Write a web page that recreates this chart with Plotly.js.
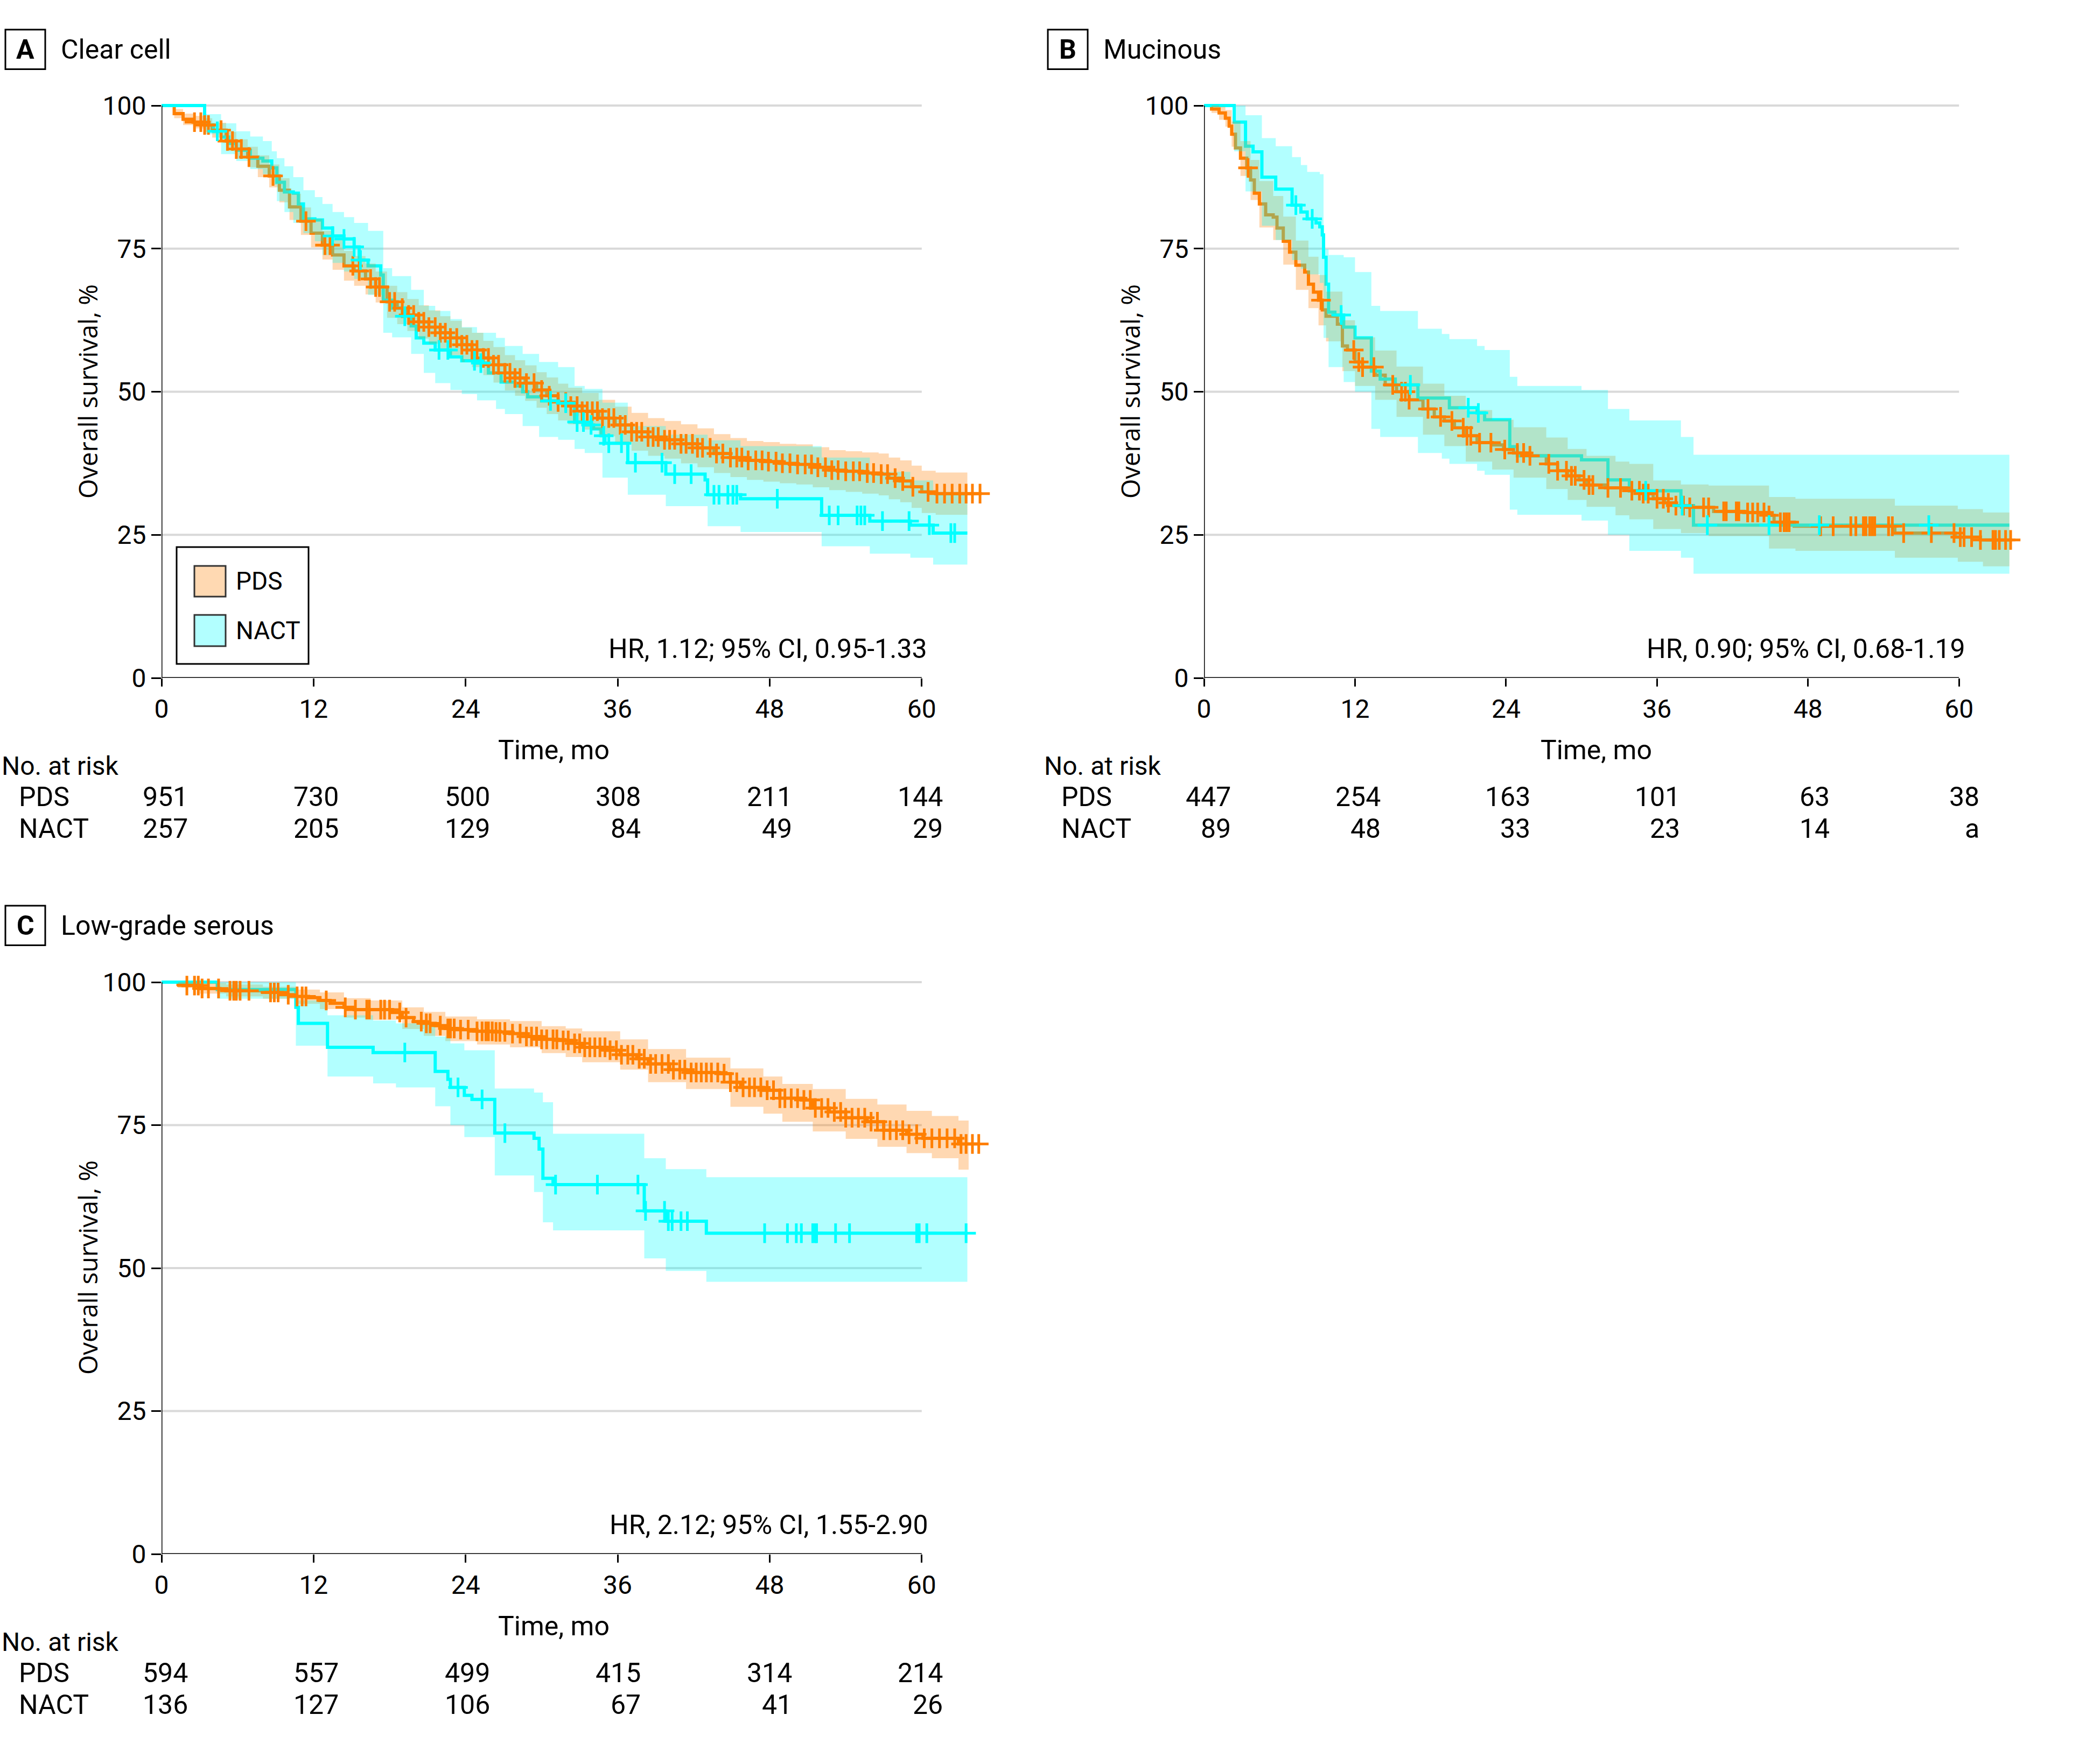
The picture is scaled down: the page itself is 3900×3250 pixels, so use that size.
<!DOCTYPE html>
<html>
<head>
<meta charset="utf-8">
<script src="https://cdn.plot.ly/plotly-3.0.1.min.js"></script>
<style>html,body{margin:0;padding:0;background:#fff;}#chart{width:3900px;height:3250px;}</style>
</head>
<body>
<div id="chart"></div>
<script>
// ---------------- DATA ----------------
const monthTicks = [0, 12, 24, 36, 48, 60];
const survTicks = [0, 25, 50, 75, 100];
const groups = ["PDS", "NACT"];

// Panel A: Clear cell
const A_pds_t = [0, 1.0, 1.7, 2.5, 3.4, 4.0, 5.1, 5.9, 6.8, 7.6, 8.5, 9.3, 10.1, 11.0, 11.8, 12.7, 13.5, 14.4, 15.2, 16.1, 16.9, 17.8, 18.6, 19.4, 20.3, 21.1, 22.0, 22.8, 23.7, 24.5, 25.4, 26.2, 27.1, 27.9, 28.7, 29.6, 30.4, 31.3, 32.1, 33.2, 34.5, 35.8, 37.1, 38.4, 39.7, 41.0, 42.3, 43.6, 44.9, 46.2, 47.5, 48.8, 50.1, 51.4, 52.7, 54.0, 55.3, 56.6, 57.4, 58.3, 59.2, 60.0, 61.1, 64.6];
const A_pds_s = [100, 98.6, 97.6, 97.1, 96.6, 95.7, 93.8, 92.4, 91.0, 89.4, 87.7, 85.2, 82.3, 79.8, 77.7, 75.6, 73.9, 72.0, 71.1, 69.7, 68.3, 65.7, 64.6, 63.4, 62.2, 61.3, 60.3, 59.4, 58.2, 57.3, 55.9, 54.7, 53.3, 52.4, 51.5, 50.3, 49.3, 48.2, 47.5, 46.6, 45.4, 44.2, 43.0, 42.1, 41.6, 40.9, 40.2, 39.2, 38.5, 38.0, 37.8, 37.5, 37.3, 36.8, 36.3, 36.1, 35.8, 35.6, 34.9, 34.4, 33.4, 32.5, 32.2, 32.2];
const A_pds_ci_t = [0, 1.0, 1.7, 2.5, 3.4, 4.0, 5.1, 5.9, 6.8, 7.6, 8.5, 9.3, 10.1, 11.0, 11.8, 12.7, 13.5, 14.4, 15.2, 16.1, 16.9, 17.8, 18.6, 19.4, 20.3, 21.1, 22.0, 22.8, 23.7, 24.5, 25.4, 26.2, 27.1, 27.9, 28.7, 29.6, 30.4, 31.3, 32.1, 33.2, 34.5, 35.8, 37.1, 38.4, 39.7, 41.0, 42.3, 43.6, 44.9, 46.2, 47.5, 48.8, 50.1, 51.4, 52.7, 54.0, 55.3, 56.6, 57.4, 58.3, 59.2, 60.0, 61.1, 63.6];
const A_pds_hi = [100, 99.4, 98.6, 98.2, 97.8, 97.0, 95.4, 94.1, 92.8, 91.3, 89.7, 87.3, 84.6, 82.2, 80.2, 78.1, 76.5, 74.6, 73.7, 72.4, 71.0, 68.5, 67.4, 66.2, 65.1, 64.2, 63.2, 62.4, 61.2, 60.3, 58.9, 57.8, 56.4, 55.5, 54.6, 53.4, 52.5, 51.4, 50.7, 49.8, 48.6, 47.4, 46.3, 45.4, 44.9, 44.3, 43.6, 42.6, 41.9, 41.4, 41.2, 40.9, 40.8, 40.3, 39.8, 39.6, 39.4, 39.2, 38.5, 38.0, 37.1, 36.2, 35.9, 35.9];
const A_pds_lo = [100, 97.8, 96.6, 96.0, 95.4, 94.4, 92.2, 90.7, 89.2, 87.5, 85.7, 83.1, 80.0, 77.4, 75.2, 73.1, 71.3, 69.4, 68.5, 67.0, 65.6, 62.9, 61.8, 60.6, 59.3, 58.4, 57.4, 56.4, 55.2, 54.3, 52.9, 51.6, 50.2, 49.3, 48.4, 47.2, 46.1, 45.0, 44.3, 43.4, 42.2, 41.0, 39.7, 38.8, 38.3, 37.5, 36.8, 35.8, 35.1, 34.6, 34.3, 34.0, 33.8, 33.3, 32.8, 32.5, 32.2, 31.9, 31.2, 30.7, 29.7, 28.8, 28.5, 28.5];
const A_pds_cens = [2.6, 3.1, 3.4, 3.7, 4.7, 5.2, 5.6, 5.9, 6.3, 6.9, 8.8, 11.4, 12.9, 13.3, 15.1, 15.6, 16.5, 16.9, 17.2, 18.0, 18.4, 19.0, 19.5, 19.9, 20.3, 20.7, 21.1, 21.6, 22.0, 22.4, 22.8, 23.3, 23.7, 24.1, 24.5, 24.9, 25.4, 25.8, 26.2, 26.6, 27.1, 27.5, 27.9, 28.3, 28.8, 29.4, 30.0, 30.6, 31.3, 31.9, 32.3, 32.8, 33.2, 33.6, 34.0, 34.4, 34.8, 35.3, 35.7, 36.2, 36.6, 37.1, 37.5, 37.9, 38.4, 38.8, 39.2, 39.7, 40.1, 40.5, 41.0, 41.4, 41.9, 42.3, 42.7, 43.3, 43.8, 44.3, 44.9, 45.4, 45.8, 46.3, 46.9, 47.4, 47.9, 48.5, 49.0, 49.6, 50.2, 50.8, 51.3, 51.8, 52.4, 52.9, 53.4, 54.0, 54.6, 55.1, 55.7, 56.2, 56.8, 57.3, 57.9, 58.5, 59.3, 60.5, 61.2, 61.8, 62.4, 63.0, 63.5, 64.0, 64.6];

const A_nact_t = [0, 3.4, 4.1, 4.7, 5.3, 5.9, 7.0, 8.0, 8.7, 9.1, 9.7, 10.4, 10.8, 11.2, 12.1, 12.7, 13.5, 14.4, 15.2, 15.6, 16.3, 17.3, 17.5, 18.2, 19.0, 19.7, 20.1, 20.7, 21.6, 22.8, 23.7, 24.9, 25.8, 26.8, 27.9, 28.5, 28.9, 30.0, 31.3, 32.6, 33.4, 34.1, 34.7, 35.0, 36.8, 39.8, 42.9, 43.1, 45.7, 52.1, 55.9, 59.1, 60.9, 63.6];
const A_nact_s = [100, 96.6, 95.5, 94.5, 93.4, 92.2, 90.8, 90.3, 89.1, 86.6, 84.9, 84.7, 82.8, 80.2, 80.0, 78.6, 77.2, 76.7, 75.3, 73.0, 72.0, 70.4, 66.0, 64.6, 63.2, 61.5, 59.4, 58.5, 57.3, 56.1, 55.4, 55.0, 53.3, 51.7, 51.0, 50.0, 49.1, 48.4, 48.0, 44.7, 44.2, 43.5, 42.3, 41.0, 37.6, 35.6, 34.6, 32.0, 31.3, 28.4, 27.4, 26.7, 25.3, 25.3];
const A_nact_ci_t = [0, 3.4, 4.7, 5.9, 7.0, 8.0, 8.7, 9.1, 9.7, 10.4, 11.2, 12.1, 12.7, 13.5, 14.4, 15.2, 16.3, 17.5, 18.2, 19.7, 20.7, 21.6, 22.8, 23.7, 24.9, 26.4, 27.1, 28.5, 29.8, 31.3, 32.6, 33.4, 34.8, 36.8, 39.8, 43.1, 45.7, 52.1, 55.9, 59.1, 60.9, 63.6];
const A_nact_hi = [100, 98.5, 96.9, 95.5, 94.6, 93.8, 92.0, 90.8, 89.4, 87.5, 85.2, 84.0, 82.8, 81.4, 80.5, 79.5, 78.1, 71.6, 70.2, 67.8, 65.0, 64.1, 62.7, 61.3, 60.3, 59.4, 58.0, 56.6, 55.2, 54.3, 51.0, 50.5, 48.1, 44.0, 42.5, 41.5, 40.5, 38.5, 36.0, 34.5, 32.5, 32.5];
const A_nact_lo = [100, 95.0, 91.5, 90.3, 88.9, 88.0, 86.1, 83.3, 81.4, 79.5, 77.7, 76.3, 73.9, 72.5, 71.0, 69.7, 66.9, 60.3, 59.5, 56.6, 53.3, 51.5, 50.3, 49.6, 48.5, 47.0, 46.1, 44.0, 42.1, 41.6, 40.0, 39.3, 35.0, 32.0, 30.0, 26.5, 25.5, 23.0, 21.7, 21.0, 19.8, 19.8];
const A_nact_cens = [4.4, 13.5, 14.4, 15.2, 15.7, 19.2, 21.9, 22.6, 24.7, 25.2, 30.7, 31.9, 32.8, 33.3, 33.9, 34.9, 35.3, 36.3, 37.4, 39.5, 40.5, 41.8, 43.6, 44.0, 44.7, 45.1, 45.4, 48.6, 52.7, 53.4, 54.9, 55.2, 55.5, 56.9, 59.0, 60.6, 62.3, 62.6];

// Panel B: Mucinous
const B_pds_t = [0, 0.6, 1.2, 1.7, 2.0, 2.2, 2.5, 2.9, 3.4, 3.7, 4.0, 4.4, 4.9, 5.5, 5.8, 6.3, 6.8, 7.3, 8.0, 8.3, 8.7, 9.1, 9.4, 9.7, 10.6, 11.0, 11.4, 12.0, 12.6, 13.6, 14.4, 15.3, 16.3, 17.4, 18.3, 19.1, 19.9, 20.8, 21.7, 22.9, 23.8, 24.6, 25.9, 27.2, 28.1, 28.9, 29.8, 30.4, 31.9, 33.8, 34.9, 35.7, 36.6, 37.5, 38.4, 40.5, 42.9, 44.9, 45.3, 46.9, 54.9, 59.7, 61.7, 64.2];
const B_pds_s = [100, 99.4, 98.7, 97.8, 96.4, 95.0, 92.6, 90.8, 89.1, 87.0, 84.7, 82.8, 80.9, 80.5, 78.6, 76.3, 74.4, 72.1, 70.9, 68.8, 67.4, 66.0, 64.3, 63.2, 61.8, 58.0, 57.3, 55.2, 54.3, 52.9, 51.2, 50.0, 48.6, 47.0, 45.6, 44.9, 43.7, 42.3, 41.1, 40.7, 39.9, 39.3, 38.8, 37.4, 36.2, 35.3, 34.6, 33.7, 33.2, 32.7, 32.2, 31.3, 30.6, 30.1, 29.8, 29.1, 28.9, 28.4, 27.2, 26.5, 25.3, 24.6, 24.1, 24.1];
const B_pds_ci_t = [0, 0.6, 1.2, 1.7, 2.2, 2.9, 3.7, 4.4, 5.5, 6.3, 7.3, 8.3, 9.1, 9.7, 11.0, 12.0, 13.6, 15.3, 17.4, 19.1, 20.8, 22.9, 24.6, 27.2, 28.9, 30.4, 32.7, 33.8, 35.7, 37.9, 40.1, 44.9, 47.0, 54.9, 59.9, 61.9, 64.0];
const B_pds_hi = [100, 100, 99.8, 99.2, 97.2, 93.8, 90.5, 86.8, 84.2, 80.6, 76.4, 73.6, 70.4, 67.5, 62.5, 59.5, 57.2, 54.4, 51.4, 49.3, 46.8, 45.1, 43.8, 42.0, 40.0, 38.8, 37.8, 37.4, 34.5, 33.8, 33.6, 31.6, 31.3, 30.1, 29.5, 28.9, 28.9];
const B_pds_lo = [100, 98.7, 97.5, 96.3, 92.8, 87.7, 83.5, 78.7, 76.5, 72.2, 67.8, 64.6, 61.6, 58.8, 53.6, 51.0, 48.6, 45.6, 42.5, 40.5, 37.8, 36.4, 35.0, 33.0, 31.1, 29.9, 28.4, 27.7, 26.0, 25.3, 24.8, 22.6, 22.2, 21.0, 20.3, 19.5, 19.5];
const B_pds_cens = [3.5, 9.3, 11.9, 12.3, 12.6, 13.5, 15.0, 15.7, 16.0, 16.3, 17.8, 18.8, 19.7, 20.6, 20.9, 21.2, 21.9, 22.8, 23.9, 24.9, 25.4, 25.9, 27.4, 28.1, 28.8, 29.2, 29.5, 30.2, 30.6, 30.9, 32.1, 33.1, 34.0, 34.6, 34.9, 35.3, 36.0, 36.5, 36.9, 37.5, 38.1, 38.6, 39.7, 40.1, 41.3, 41.5, 42.3, 42.5, 43.2, 43.6, 44.0, 44.5, 44.9, 45.8, 46.1, 46.3, 46.5, 49.0, 50.0, 51.4, 51.8, 52.4, 52.6, 52.9, 53.1, 53.3, 54.4, 54.7, 55.6, 57.8, 59.6, 60.1, 60.4, 61.0, 61.7, 62.7, 62.9, 63.2, 63.7, 64.1];

const B_nact_t = [0, 2.4, 3.3, 3.9, 4.6, 5.7, 7.0, 7.7, 8.2, 8.9, 9.2, 9.4, 9.5, 9.7, 9.9, 10.4, 11.1, 12.0, 13.3, 14.0, 15.2, 17.0, 19.5, 21.7, 22.3, 24.3, 24.9, 30.0, 32.1, 33.8, 37.9, 38.9, 64.0];
const B_nact_s = [100, 97.1, 92.9, 91.9, 87.5, 85.4, 82.6, 81.4, 80.2, 79.5, 78.8, 77.4, 73.5, 68.8, 63.9, 63.4, 61.3, 59.4, 53.6, 52.2, 51.2, 48.9, 47.2, 46.3, 45.1, 40.4, 38.8, 38.1, 34.6, 32.7, 30.1, 26.7, 26.7];
const B_nact_ci_t = [0, 2.4, 3.3, 4.6, 5.7, 7.0, 7.7, 8.2, 9.2, 9.5, 9.9, 11.1, 12.0, 13.3, 14.0, 17.0, 18.9, 19.5, 21.7, 22.3, 24.3, 24.9, 30.0, 32.1, 33.8, 37.9, 38.9, 64.0];
const B_nact_hi = [100, 100, 98.3, 94.3, 92.9, 91.0, 89.6, 88.4, 88.0, 74.9, 73.9, 73.5, 70.9, 65.0, 64.1, 61.0, 60.1, 59.2, 58.0, 57.3, 52.6, 51.0, 50.3, 47.0, 45.0, 42.1, 39.0, 39.0];
const B_nact_lo = [100, 92.0, 85.0, 79.0, 76.5, 73.0, 71.5, 70.5, 69.0, 59.4, 54.3, 51.7, 50.0, 43.5, 42.1, 39.3, 38.3, 37.4, 36.2, 35.5, 29.4, 28.5, 27.5, 25.0, 22.2, 21.0, 18.2, 18.2];
const B_nact_cens = [7.3, 8.6, 10.9, 16.4, 21.0, 21.8, 35.1, 38.0, 40.0, 44.9, 48.9, 57.6];

// Panel C: Low-grade serous
const C_pds_t = [0, 1.3, 1.7, 3.0, 4.6, 5.1, 8.0, 9.3, 10.6, 11.6, 12.5, 13.3, 14.4, 15.2, 18.2, 19.0, 19.9, 20.7, 21.6, 22.4, 23.3, 24.9, 26.2, 27.5, 28.8, 30.0, 31.3, 32.6, 33.2, 35.1, 36.2, 37.5, 38.4, 40.1, 41.4, 44.0, 44.9, 45.7, 47.5, 48.8, 50.5, 51.4, 52.7, 54.0, 55.7, 57.0, 58.8, 60.1, 62.9, 64.6];
const C_pds_s = [100, 99.6, 99.4, 98.9, 98.7, 98.5, 98.2, 97.8, 97.5, 97.3, 96.8, 96.3, 95.6, 95.2, 94.7, 93.8, 93.1, 92.8, 92.4, 91.9, 91.7, 91.4, 91.3, 91.0, 90.5, 90.0, 89.8, 89.3, 88.6, 88.1, 87.3, 86.6, 85.7, 84.7, 84.2, 84.0, 82.5, 81.6, 81.1, 79.7, 79.4, 78.0, 77.3, 76.3, 75.6, 74.1, 73.4, 72.7, 71.7, 71.7];
const C_pds_ci_t = [0, 1.3, 3.0, 5.1, 8.0, 10.6, 12.5, 14.4, 16.5, 19.0, 20.7, 22.4, 24.9, 27.5, 30.0, 31.9, 33.2, 36.2, 38.4, 41.4, 44.9, 47.5, 49.0, 51.4, 54.0, 56.5, 58.8, 60.8, 62.9, 63.7];
const C_pds_hi = [100, 100, 99.8, 99.6, 99.2, 98.7, 98.2, 97.2, 96.8, 95.6, 94.8, 94.0, 93.5, 93.2, 92.3, 91.9, 91.4, 90.0, 88.3, 86.8, 84.9, 83.5, 82.2, 81.3, 79.6, 78.6, 77.5, 76.6, 75.8, 75.8];
const C_pds_lo = [100, 99.0, 98.0, 97.5, 97.1, 96.2, 95.3, 93.8, 93.4, 91.8, 90.6, 89.7, 89.1, 88.6, 87.6, 86.9, 86.0, 84.7, 82.5, 81.3, 78.2, 77.0, 75.6, 73.9, 72.6, 71.2, 70.1, 69.2, 67.2, 67.2];
const C_pds_cens = [2.0, 2.6, 2.9, 3.2, 3.7, 4.5, 5.4, 5.7, 5.9, 6.2, 6.9, 8.6, 8.9, 9.2, 10.0, 10.7, 11.1, 11.4, 13.0, 14.5, 15.3, 16.2, 16.4, 17.3, 17.6, 18.0, 18.8, 19.3, 20.5, 20.9, 21.2, 22.0, 22.6, 22.8, 23.1, 23.6, 24.2, 24.9, 25.3, 25.6, 25.8, 26.1, 26.4, 26.7, 27.1, 27.7, 28.3, 28.8, 29.2, 29.6, 30.0, 30.4, 30.9, 31.2, 31.7, 32.1, 32.6, 33.0, 33.4, 33.8, 34.2, 34.6, 35.0, 35.4, 35.9, 36.3, 36.8, 37.2, 37.7, 38.1, 38.6, 39.0, 39.5, 40.0, 40.4, 40.9, 41.3, 41.8, 42.2, 42.6, 43.0, 43.4, 43.9, 44.4, 44.9, 45.4, 45.9, 46.4, 46.8, 47.3, 47.8, 48.3, 48.8, 49.2, 49.7, 50.2, 50.7, 51.2, 51.6, 52.1, 52.6, 53.1, 53.6, 54.0, 54.5, 55.0, 55.5, 56.0, 56.5, 57.0, 57.5, 58.0, 58.5, 59.0, 59.6, 60.2, 60.8, 61.4, 62.0, 62.6, 63.1, 63.5, 64.0, 64.5];

const C_nact_t = [0, 4.4, 10.6, 10.8, 13.1, 16.7, 21.6, 22.6, 22.8, 23.9, 24.5, 26.3, 29.4, 29.8, 30.1, 30.9, 38.1, 39.8, 43.0, 63.6];
const C_nact_s = [100, 98.7, 95.6, 92.8, 88.6, 87.7, 84.4, 83.0, 81.6, 80.2, 79.5, 73.6, 72.7, 70.8, 65.7, 64.6, 60.0, 58.2, 56.1, 56.1];
const C_nact_ci_t = [0, 4.4, 10.6, 13.1, 16.7, 18.5, 21.6, 22.8, 23.9, 26.3, 29.4, 30.1, 30.9, 38.1, 39.8, 43.0, 63.6];
const C_nact_hi = [100, 100, 96.8, 94.2, 93.3, 92.8, 90.5, 89.3, 88.1, 81.4, 80.7, 79.0, 73.5, 69.2, 67.3, 65.9, 65.9];
const C_nact_lo = [100, 97.1, 88.9, 83.5, 82.3, 81.6, 78.3, 75.0, 72.9, 66.2, 63.3, 58.0, 56.6, 51.7, 49.5, 47.6, 47.6];
const C_nact_cens = [19.2, 23.4, 25.3, 27.1, 31.1, 34.4, 37.6, 38.2, 39.7, 40.0, 40.3, 41.0, 41.5, 47.6, 49.4, 50.1, 50.5, 51.4, 51.6, 51.7, 53.2, 54.3, 59.6, 59.8, 60.4, 63.5];

// Number at risk
const A_risk_pds = ["951", "730", "500", "308", "211", "144"];
const A_risk_nact = ["257", "205", "129", "84", "49", "29"];
const B_risk_pds = ["447", "254", "163", "101", "63", "38"];
const B_risk_nact = ["89", "48", "33", "23", "14", "a"];
const C_risk_pds = ["594", "557", "499", "415", "314", "214"];
const C_risk_nact = ["136", "127", "106", "67", "41", "26"];

const panelLetters = ["A", "B", "C"];
const panelTitles = ["Clear cell", "Mucinous", "Low-grade serous"];
const hrTexts = ["HR, 1.12; 95% CI, 0.95-1.33", "HR, 0.90; 95% CI, 0.68-1.19", "HR, 2.12; 95% CI, 1.55-2.90"];

// ---------------- STYLE / LAYOUT ----------------
const W = 3900, H = 3250;
const PX = v => v / W;
const PY = v => 1 - v / H;
const ORANGE = "#FF7F00", CYAN = "#00FFFF";
const ORANGE_FILL = "rgba(255,127,0,0.3)", CYAN_FILL = "rgba(0,255,255,0.3)";
const FONT = "Roboto, 'Noto Sans', sans-serif";
const FS = 50;

function stepAt(ts, ss, t) {
  let v = ss[0];
  for (let i = 0; i < ts.length; i++) { if (ts[i] <= t) v = ss[i]; else break; }
  return v;
}

const panels = [
  {xa: "x", ya: "y", axL: 300, axB: 1259, top: 0,
   pds: [A_pds_t, A_pds_s, A_pds_ci_t, A_pds_hi, A_pds_lo, A_pds_cens],
   nact: [A_nact_t, A_nact_s, A_nact_ci_t, A_nact_hi, A_nact_lo, A_nact_cens],
   risk: [A_risk_pds, A_risk_nact], riskX0: 351, riskDX: 280.4, hrRight: 1724, legend: true},
  {xa: "x2", ya: "y2", axL: 2236, axB: 1259, top: 0,
   pds: [B_pds_t, B_pds_s, B_pds_ci_t, B_pds_hi, B_pds_lo, B_pds_cens],
   nact: [B_nact_t, B_nact_s, B_nact_ci_t, B_nact_hi, B_nact_lo, B_nact_cens],
   risk: [B_risk_pds, B_risk_nact], riskX0: 2288, riskDX: 278, hrRight: 3652, legend: false},
  {xa: "x3", ya: "y3", axL: 300, axB: 2886, top: 1627,
   pds: [C_pds_t, C_pds_s, C_pds_ci_t, C_pds_hi, C_pds_lo, C_pds_cens],
   nact: [C_nact_t, C_nact_s, C_nact_ci_t, C_nact_hi, C_nact_lo, C_nact_cens],
   risk: [C_risk_pds, C_risk_nact], riskX0: 351, riskDX: 280.4, hrRight: 1726, legend: false}
];

const traces = [];
const shapes = [];
const annotations = [];

panels.forEach((p, k) => {
  const base = {xaxis: p.xa, yaxis: p.ya, hoverinfo: "skip", showlegend: false};
  // lines
  traces.push(Object.assign({}, base, {x: p.pds[0], y: p.pds[1], mode: "lines", line: {color: ORANGE, width: 6, shape: "hv"}}));
  traces.push(Object.assign({}, base, {x: p.nact[0], y: p.nact[1], mode: "lines", line: {color: CYAN, width: 6, shape: "hv"}}));
  // CI bands
  traces.push(Object.assign({}, base, {x: p.pds[2], y: p.pds[4], mode: "lines", line: {width: 0, shape: "hv"}}));
  traces.push(Object.assign({}, base, {x: p.pds[2], y: p.pds[3], mode: "lines", line: {width: 0, shape: "hv"}, fill: "tonexty", fillcolor: ORANGE_FILL}));
  traces.push(Object.assign({}, base, {x: p.nact[2], y: p.nact[4], mode: "lines", line: {width: 0, shape: "hv"}}));
  traces.push(Object.assign({}, base, {x: p.nact[2], y: p.nact[3], mode: "lines", line: {width: 0, shape: "hv"}, fill: "tonexty", fillcolor: CYAN_FILL}));
  // censor marks
  [[p.pds, ORANGE], [p.nact, CYAN]].forEach(([g, col]) => {
    traces.push(Object.assign({}, base, {
      x: g[5], y: g[5].map(t => stepAt(g[0], g[1], t)), mode: "markers",
      marker: {symbol: "cross-thin", size: 26, color: col, line: {color: col, width: 5}}, cliponaxis: false
    }));
  });

  // gridlines
  [25, 50, 75, 100].forEach(v => shapes.push({type: "line", xref: p.xa, yref: p.ya, x0: 0, x1: 60, y0: v, y1: v, layer: "below", line: {color: "#D9D9D9", width: 4}}));
  // axis lines
  shapes.push({type: "line", xref: p.xa, yref: p.ya, x0: 0, x1: 60, y0: 0, y1: 0, layer: "above", line: {color: "#000", width: 3}});
  shapes.push({type: "line", xref: p.xa, yref: p.ya, x0: 0, x1: 0, y0: 0, y1: 100, layer: "above", line: {color: "#000", width: 3}});

  const dy = p.top;
  const dx = p.axL - 300;
  // panel letter box + title
  shapes.push({type: "rect", xref: "paper", yref: "paper", x0: PX(10 + dx), x1: PX(84 + dx), y0: PY(55 + dy), y1: PY(128.5 + dy), line: {color: "#000", width: 3}, fillcolor: "rgba(0,0,0,0)"});
  annotations.push({xref: "paper", yref: "paper", x: PX(47 + dx), y: PY(92 + dy), xanchor: "center", yanchor: "middle", showarrow: false, text: "<b>" + panelLetters[k] + "</b>", font: {family: FONT, size: FS, color: "#000"}});
  annotations.push({xref: "paper", yref: "paper", x: PX(111 + dx), y: PY(92 + dy), xanchor: "left", yanchor: "middle", showarrow: false, text: panelTitles[k], font: {family: FONT, size: FS, color: "#000"}});
  // y title
  annotations.push({xref: "paper", yref: "paper", x: PX(p.axL - 137), y: PY(727 + dy), xanchor: "center", yanchor: "middle", showarrow: false, textangle: -90, text: "Overall survival, %", font: {family: "'Open Sans', sans-serif", size: 47, color: "#000"}});
  // HR text
  annotations.push({xref: "paper", yref: "paper", x: PX(p.hrRight), y: PY(1205 + dy), xanchor: "right", yanchor: "middle", showarrow: false, text: hrTexts[k], font: {family: FONT, size: FS, color: "#000"}});
  // x title
  annotations.push({xref: "paper", yref: "paper", x: PX(p.axL + 728), y: PY(1393 + dy), xanchor: "center", yanchor: "middle", showarrow: false, text: "Time, mo", font: {family: FONT, size: FS, color: "#000"}});
  // at-risk table
  annotations.push({xref: "paper", yref: "paper", x: PX(p.axL - 299), y: PY(1422 + dy), xanchor: "left", yanchor: "middle", showarrow: false, text: "No. at risk", font: {family: FONT, size: 48, color: "#000"}});
  groups.forEach((gname, gi) => {
    const ry = gi === 0 ? 1480 : 1539;
    annotations.push({xref: "paper", yref: "paper", x: PX(p.axL - 267), y: PY(ry + dy), xanchor: "left", yanchor: "middle", showarrow: false, text: gname, font: {family: FONT, size: FS, color: "#000"}});
    p.risk[gi].forEach((val, i) => {
      annotations.push({xref: "paper", yref: "paper", x: PX(p.riskX0 + i * p.riskDX), y: PY(ry + dy), xanchor: "right", yanchor: "middle", showarrow: false, text: val, font: {family: FONT, size: FS, color: "#000"}});
    });
  });

  if (p.legend) {
    shapes.push({type: "rect", xref: "paper", yref: "paper", x0: PX(328), x1: PX(573), y0: PY(1016), y1: PY(1233), line: {color: "#000", width: 3}, fillcolor: "#fff", layer: "above"});
    shapes.push({type: "rect", xref: "paper", yref: "paper", x0: PX(361), x1: PX(419), y0: PY(1051), y1: PY(1108), line: {color: "#333", width: 3}, fillcolor: "#FFD9B2", layer: "above"});
    shapes.push({type: "rect", xref: "paper", yref: "paper", x0: PX(361), x1: PX(419), y0: PY(1142), y1: PY(1200), line: {color: "#333", width: 3}, fillcolor: "#B2FFFF", layer: "above"});
    annotations.push({xref: "paper", yref: "paper", x: PX(436), y: PY(1079), xanchor: "left", yanchor: "middle", showarrow: false, text: groups[0], font: {family: FONT, size: 46, color: "#000"}});
    annotations.push({xref: "paper", yref: "paper", x: PX(436), y: PY(1171), xanchor: "left", yanchor: "middle", showarrow: false, text: groups[1], font: {family: FONT, size: 46, color: "#000"}});
  }
});

function xAxis(domain, anchor) {
  return {domain: domain, anchor: anchor, range: [0, 65], tickmode: "array", tickvals: monthTicks, ticktext: monthTicks.map(String),
    ticks: "outside", ticklen: 15, tickwidth: 3, tickcolor: "#000", showline: false, showgrid: false, zeroline: false,
    tickfont: {family: FONT, size: 48, color: "#000"}, ticklabelstandoff: 0, fixedrange: true};
}
function yAxis(domain, anchor) {
  return {domain: domain, anchor: anchor, range: [0, 101], tickmode: "array", tickvals: survTicks, ticktext: survTicks.map(String),
    ticks: "outside", ticklen: 18, tickwidth: 3, tickcolor: "#000", showline: false, showgrid: false, zeroline: false,
    tickfont: {family: FONT, size: 48, color: "#000"}, ticklabelstandoff: 0, fixedrange: true};
}

const xdA = [PX(300), PX(300 + 65 * 23.53)];
const xdB = [PX(2236), PX(2236 + 65 * 23.37)];
const ydAB = [PY(1259), PY(1259 - 101 * 10.63)];
const ydC = [PY(2886), PY(2886 - 101 * 10.62)];

const layout = {
  width: W, height: H, margin: {l: 0, r: 0, t: 0, b: 0},
  paper_bgcolor: "#fff", plot_bgcolor: "rgba(0,0,0,0)",
  font: {family: FONT, size: FS, color: "#000"},
  xaxis: xAxis(xdA, "y"), yaxis: yAxis(ydAB, "x"),
  xaxis2: xAxis(xdB, "y2"), yaxis2: yAxis(ydAB, "x2"),
  xaxis3: xAxis(xdA, "y3"), yaxis3: yAxis(ydC, "x3"),
  shapes: shapes, annotations: annotations, showlegend: false
};

Plotly.newPlot("chart", traces, layout, {staticPlot: true, displayModeBar: false});
</script>
</body>
</html>
